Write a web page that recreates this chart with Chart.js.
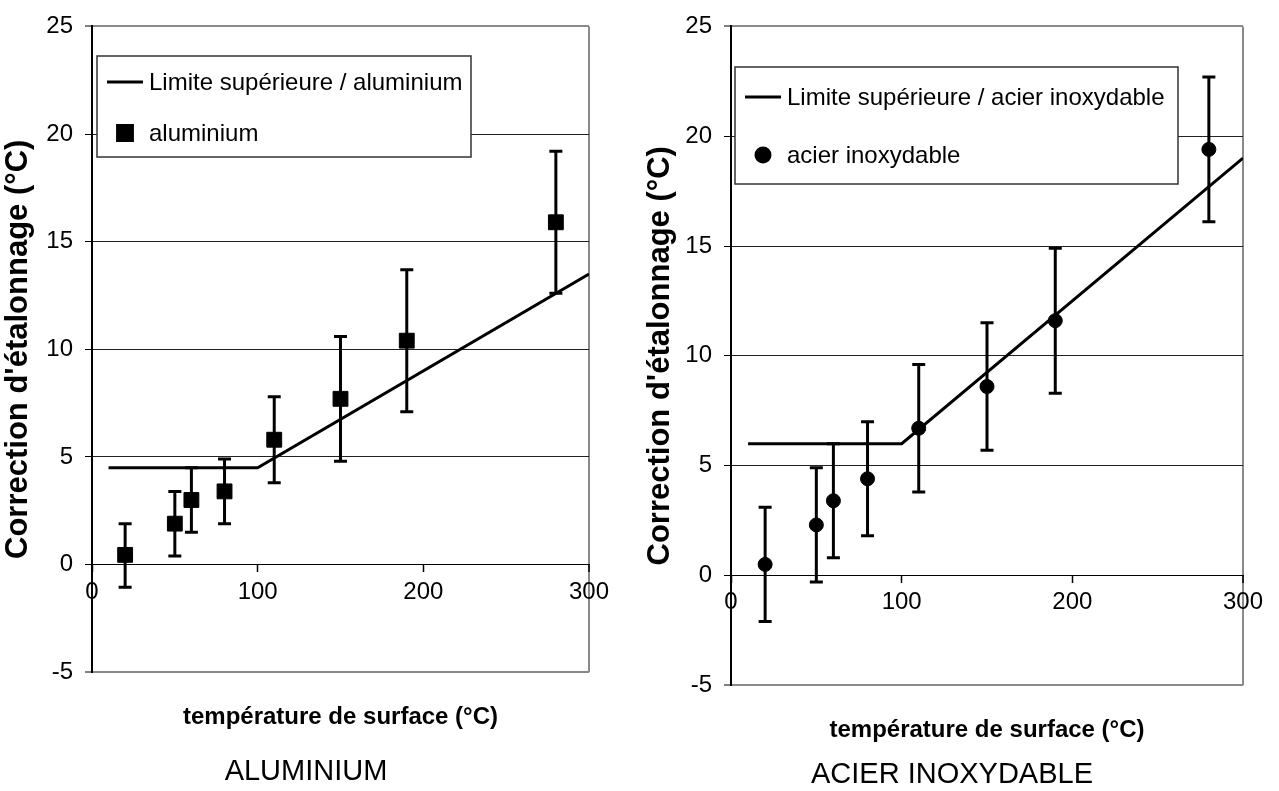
<!DOCTYPE html>
<html>
<head>
<meta charset="utf-8">
<script src="https://cdn.jsdelivr.net/npm/chart.js@4.4.1/dist/chart.umd.min.js"></script>
<style>
  html, body { margin: 0; padding: 0; background: #fff; }
  body { width: 1279px; height: 791px; position: relative; overflow: hidden; font-family: 'Liberation Sans', Arial, sans-serif; }
  canvas { position: absolute; top: 0; }
  #cL { left: 0; }
  #cR { left: 640px; }
  .cap { position: absolute; font-size: 29px; color: #000; transform: translate(-50%, -50%); white-space: nowrap; line-height: 1; }
</style>
</head>
<body>
<canvas id="cL" width="640" height="791"></canvas>
<canvas id="cR" width="639" height="791"></canvas>
<div class="cap" style="left:306px; top:770px;">ALUMINIUM</div>
<div class="cap" style="left:952px; top:773px;">ACIER INOXYDABLE</div>
<script>
// ---- Data ----
const temps = [20, 50, 60, 80, 110, 150, 190, 280];

const aluValues = [0.45, 1.9, 3.0, 3.4, 5.8, 7.7, 10.4, 15.9];
const aluLow    = [-1.05, 0.4, 1.5, 1.9, 3.8, 4.8, 7.1, 12.6];
const aluHigh   = [1.9, 3.4, 4.5, 4.9, 7.8, 10.6, 13.7, 19.2];
const aluLimitX = [10, 100, 300];
const aluLimitY = [4.5, 4.5, 13.5];

const inoxValues = [0.5, 2.3, 3.4, 4.4, 6.7, 8.6, 11.6, 19.4];
const inoxLow    = [-2.1, -0.3, 0.8, 1.8, 3.8, 5.7, 8.3, 16.1];
const inoxHigh   = [3.1, 4.9, 6.0, 7.0, 9.6, 11.5, 14.9, 22.7];
const inoxLimitX = [10, 100, 300];
const inoxLimitY = [6, 6, 19];

const xTicks = [0, 100, 200, 300];
const yTicks = [-5, 0, 5, 10, 15, 20, 25];

const yTitle = "Correction d'étalonnage (°C)";
const xTitle = "température de surface (°C)";

// ---- Helpers ----
const FONT = "'Liberation Sans', Arial, sans-serif";
Chart.defaults.font.family = FONT;
Chart.defaults.color = '#000';

const boxLegend = {
  id: 'boxLegend',
  afterDatasetsDraw(chart, args, o) {
    const ctx = chart.ctx;
    const ca = chart.chartArea;
    const x = ca.left + o.dx, y = o.y;
    ctx.save();
    ctx.fillStyle = '#fff';
    ctx.fillRect(x, y, o.w, o.h);
    ctx.strokeStyle = '#333';
    ctx.lineWidth = 1.5;
    ctx.strokeRect(x, y, o.w, o.h);
    ctx.font = '24px ' + FONT;
    ctx.textBaseline = 'middle';
    ctx.textAlign = 'left';
    ctx.fillStyle = '#000';
    const items = chart.data.datasets.filter(d => d.inLegend);
    items.forEach((ds, i) => {
      const ry = o.rows[i];
      if (ds.showLine) {
        ctx.strokeStyle = '#000';
        ctx.lineWidth = 3;
        ctx.beginPath();
        ctx.moveTo(x + 10, ry);
        ctx.lineTo(x + 46, ry);
        ctx.stroke();
      } else {
        Chart.helpers.drawPoint(ctx, {pointStyle: ds.pointStyle, radius: ds.pointRadius, borderWidth: 1, rotation: 0}, x + 28, ry);
      }
      ctx.fillStyle = '#000';
      ctx.fillText(ds.label, x + 52, ry + 1);
    });
    ctx.restore();
  }
};

function makeChart(canvasId, cfg) {
  const datasets = [];
  datasets.push({
    label: cfg.limitLabel,
    inLegend: true,
    data: cfg.limitX.map((v, i) => ({x: v, y: cfg.limitY[i]})),
    showLine: true,
    borderColor: '#000',
    borderWidth: 3,
    pointRadius: 0,
    tension: 0,
    order: 3
  });
  temps.forEach((t, i) => {
    datasets.push({
      label: 'err' + i,
      data: [{x: t, y: cfg.low[i]}, {x: t, y: cfg.high[i]}],
      showLine: true,
      borderColor: '#000',
      borderWidth: 3,
      pointStyle: 'line',
      pointRadius: 6.5,
      pointBorderWidth: 3,
      pointBorderColor: '#000',
      order: 2
    });
  });
  datasets.push({
    label: cfg.seriesLabel,
    inLegend: true,
    data: temps.map((t, i) => ({x: t, y: cfg.values[i]})),
    showLine: false,
    pointStyle: cfg.pointStyle,
    pointRadius: cfg.pointRadius,
    backgroundColor: '#000',
    borderColor: '#000',
    pointBorderWidth: 1,
    order: 1
  });

  return new Chart(document.getElementById(canvasId), {
    type: 'scatter',
    data: { datasets },
    options: {
      responsive: false,
      animation: false,
      devicePixelRatio: 1,
      layout: { padding: { left: 0, top: 20, right: cfg.padRight, bottom: 0 } },
      plugins: {
        legend: { display: false },
        tooltip: { enabled: false },
        title: { display: false },
        subtitle: {
          display: true,
          text: xTitle,
          position: 'bottom',
          fullSize: false,
          color: '#000',
          font: { size: 24, weight: 'bold', family: FONT, lineHeight: 1.2 },
          padding: { top: 31, bottom: cfg.subBottom }
        },
        boxLegend: cfg.legend
      },
      scales: {
        x: {
          type: 'linear',
          min: 0, max: 300,
          position: { y: 0 },
          afterBuildTicks: (s) => { s.ticks = xTicks.map(v => ({value: v})); },
          ticks: { font: { size: 24 }, color: '#000', padding: 6, maxRotation: 0, autoSkip: false },
          grid: {
            drawOnChartArea: true,
            color: (c) => (c.tick && c.tick.value === 300) ? '#8a8a8a' : 'rgba(0,0,0,0)',
            lineWidth: (c) => (c.tick && c.tick.value === 300) ? 2 : 1,
            tickColor: '#000',
            tickLength: 7,
            tickWidth: 1.5
          },
          border: { display: true, color: '#000', width: 1 }
        },
        y: {
          type: 'linear',
          min: -5, max: 25,
          afterBuildTicks: (s) => { s.ticks = yTicks.map(v => ({value: v})); },
          afterFit: (s) => { s.width = cfg.yWidth; },
          ticks: { font: { size: 24 }, color: '#000', padding: 12 },
          grid: {
            color: (c) => (c.tick && (c.tick.value === 25 || c.tick.value === -5)) ? '#8a8a8a' : '#222',
            lineWidth: (c) => (c.tick && (c.tick.value === 25 || c.tick.value === -5)) ? 2 : 1,
            tickColor: '#000',
            tickLength: 7,
            tickWidth: 1
          },
          border: { display: true, color: '#000', width: 2 },
          title: {
            display: true,
            text: yTitle,
            color: '#000',
            font: { size: 31, weight: 'bold', family: FONT, lineHeight: 1.2 },
            padding: { top: cfg.yTitlePad, bottom: 0 }
          }
        }
      }
    },
    plugins: [boxLegend]
  });
}

makeChart('cL', {
  limitLabel: 'Limite supérieure / aluminium',
  seriesLabel: 'aluminium',
  limitX: aluLimitX, limitY: aluLimitY,
  values: aluValues, low: aluLow, high: aluHigh,
  pointStyle: 'rect', pointRadius: 10.5,
  padRight: 51, yWidth: 92, subBottom: 59, yTitlePad: 0,
  legend: { dx: 5, y: 56, w: 374, h: 101, rows: [82, 133] }
});

makeChart('cR', {
  limitLabel: 'Limite supérieure / acier inoxydable',
  seriesLabel: 'acier inoxydable',
  limitX: inoxLimitX, limitY: inoxLimitY,
  values: inoxValues, low: inoxLow, high: inoxHigh,
  pointStyle: 'circle', pointRadius: 7,
  padRight: 36, yWidth: 91, subBottom: 46, yTitlePad: 2,
  legend: { dx: 4, y: 67, w: 443, h: 117, rows: [97, 155] }
});
</script>
</body>
</html>
